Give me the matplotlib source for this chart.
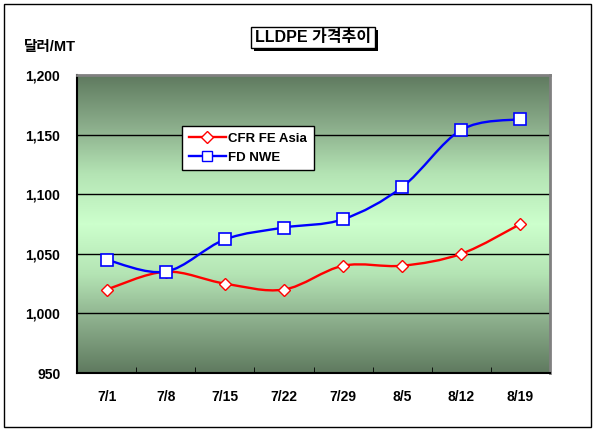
import numpy as np
import matplotlib
matplotlib.use("Agg")
import matplotlib.pyplot as plt
from matplotlib.path import Path
from matplotlib.patches import PathPatch, Rectangle
from matplotlib.colors import LinearSegmentedColormap
from matplotlib.lines import Line2D
from matplotlib.ticker import FuncFormatter

plt.rcParams['font.family'] = ['Liberation Sans', 'Noto Sans CJK KR', 'DejaVu Sans']

categories = ['7/1', '7/8', '7/15', '7/22', '7/29', '8/5', '8/12', '8/19']
cfr_fe_asia = [1020, 1035, 1025, 1020, 1040, 1040, 1050, 1075]
fd_nwe = [1045, 1035, 1062, 1072, 1079, 1106, 1154, 1163]
y_ticks = [950, 1000, 1050, 1100, 1150, 1200]

W, H = 596, 432
fig = plt.figure(figsize=(W / 100, H / 100), dpi=100)

# outer frame
fig.patches.append(Rectangle((3.5 / W, 1 - 426.5 / H), 587 / W, 423 / H,
                             transform=fig.transFigure, fill=False,
                             edgecolor='black', linewidth=1.0))

L, R, T, B = 77, 550, 75, 373
ax = fig.add_axes([L / W, 1 - B / H, (R - L) / W, (B - T) / H])

x = np.arange(len(categories))
ax.set_xlim(-0.5, len(categories) - 0.5)
ax.set_ylim(950, 1200)

# gradient background (dark edges, light center)
cmap = LinearSegmentedColormap.from_list('g', ['#ccffcc', '#b4e4b4', '#8aac8a', '#5f7a5f'])
grad = np.abs(np.linspace(-1, 1, 256))[:, None]
ax.imshow(grad, aspect='auto', cmap=cmap, extent=[-0.5, len(categories) - 0.5, 950, 1200],
          origin='lower', zorder=0, interpolation='bilinear')

for yv in y_ticks[1:-1]:
    ax.axhline(yv, color='black', linewidth=1, zorder=1)


def smooth_path(xs, ys):
    pts = np.column_stack([xs, ys]).astype(float)
    n = len(pts)
    verts = [pts[0]]
    codes = [Path.MOVETO]
    for i in range(n - 1):
        p0 = pts[i - 1] if i > 0 else pts[i]
        p1 = pts[i]
        p2 = pts[i + 1]
        p3 = pts[i + 2] if i + 2 < n else pts[i + 1]
        c1 = p1 + (p2 - p0) / 6.0
        c2 = p2 - (p3 - p1) / 6.0
        verts += [c1, c2, p2]
        codes += [Path.CURVE4] * 3
    return Path(verts, codes)


ax.add_patch(PathPatch(smooth_path(x, cfr_fe_asia), fill=False, edgecolor='#ff0000',
                       linewidth=1.7, zorder=3))
ax.add_patch(PathPatch(smooth_path(x, fd_nwe), fill=False, edgecolor='#0000ff',
                       linewidth=1.7, zorder=3))
ax.plot(x, cfr_fe_asia, linestyle='none', marker='D', markersize=6.5,
        markerfacecolor='white', markeredgecolor='#ff0000', markeredgewidth=1, zorder=4)
ax.plot(x, fd_nwe, linestyle='none', marker='s', markersize=8,
        markerfacecolor='white', markeredgecolor='#0000ff', markeredgewidth=1.2, zorder=4)

# spines
ax.spines['left'].set_color('black')
ax.spines['bottom'].set_color('black')
ax.spines['left'].set_linewidth(1.5)
ax.spines['bottom'].set_linewidth(1.5)
ax.spines['top'].set_color('#808080')
ax.spines['right'].set_color('#808080')
ax.spines['top'].set_linewidth(2)
ax.spines['right'].set_linewidth(2)

ax.set_yticks(y_ticks)
ax.yaxis.set_major_formatter(FuncFormatter(lambda v, p: f"{int(v):,}"))
ax.set_xticks(x)
ax.set_xticklabels(categories)
ax.set_xticks(np.arange(0.5, len(categories) - 0.5, 1.0), minor=True)
ax.tick_params(axis='x', which='major', length=0, pad=12, labelsize=10)
ax.tick_params(axis='x', which='minor', length=4, direction='in', color='black')
ax.tick_params(axis='y', which='major', length=0, pad=12, labelsize=10)
for lbl in ax.get_xticklabels() + ax.get_yticklabels():
    lbl.set_fontweight('bold')

# y-axis unit label
fig.text(24 / W, 1 - 47 / H, '달러/MT', fontsize=10.5, fontweight='bold',
         ha='left', va='center')

# title box with shadow
bx0, by0, bx1, by1 = 251, 27, 375, 48
fig.patches.append(Rectangle(((bx0 + 3) / W, 1 - (by1 + 3) / H),
                             (bx1 - bx0) / W, (by1 - by0) / H, transform=fig.transFigure,
                             facecolor='black', edgecolor='black', linewidth=0))
fig.patches.append(Rectangle((bx0 / W, 1 - by1 / H), (bx1 - bx0) / W, (by1 - by0) / H,
                             transform=fig.transFigure, facecolor='white',
                             edgecolor='black', linewidth=1))
fig.text((bx0 + bx1) / 2 / W, 1 - (by0 + by1) / 2 / H, 'LLDPE 가격추이', fontsize=11.5,
         fontweight='bold', ha='center', va='center')

# legend
handles = [Line2D([], [], color='#ff0000', linewidth=1.7, marker='D', markersize=6,
                  markerfacecolor='white', markeredgecolor='#ff0000'),
           Line2D([], [], color='#0000ff', linewidth=1.7, marker='s', markersize=7,
                  markerfacecolor='white', markeredgecolor='#0000ff')]
leg = ax.legend(handles, ['CFR FE Asia', 'FD NWE'], loc='upper left',
                bbox_to_anchor=((182 - L) / (R - L), 1 - (126 - T) / (B - T)),
                frameon=True, fancybox=False, shadow=False, borderpad=0.5,
                handlelength=2.8, handletextpad=0.2, labelspacing=0.5,
                prop={'weight': 'bold', 'size': 9.5}, borderaxespad=0)
leg.get_frame().set_edgecolor('black')
leg.get_frame().set_linewidth(1)
leg.get_frame().set_facecolor('white')
leg.get_frame().set_alpha(1)
leg.set_zorder(5)

fig.savefig('out.png', dpi=100)
